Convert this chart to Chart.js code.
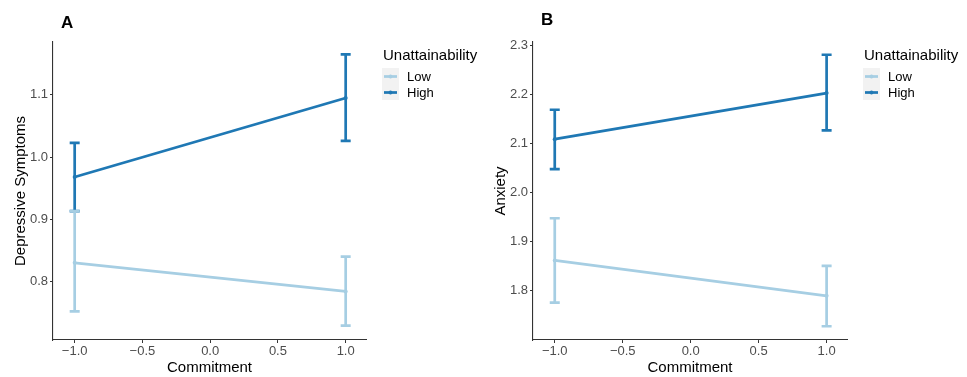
<!DOCTYPE html>
<html>
<head>
<meta charset="utf-8">
<script src="https://cdn.jsdelivr.net/npm/chart.js@4"></script>
<style>
  body { margin: 0; background: #fff; }
  .panel { position: absolute; top: 0; }
</style>
</head>
<body>
<div class="panel" style="left:0"><canvas id="panelA" width="480" height="377"></canvas></div>
<div class="panel" style="left:480px"><canvas id="panelB" width="487" height="377"></canvas></div>
<script>
// x positions (Commitment) and tick labels
const commitment = [-1, 1];
const xTicks = [-1, -0.5, 0, 0.5, 1];
const seriesNames = ['Low', 'High'];
const seriesColors = ['#a6cee3', '#1f78b4'];

// Panel A: Depressive Symptoms
const depLow = [0.830, 0.784];
const depLowUpper = [0.913, 0.840];
const depLowLower = [0.752, 0.729];
const depHigh = [0.968, 1.095];
const depHighUpper = [1.023, 1.165];
const depHighLower = [0.913, 1.026];
const depTicks = [0.8, 0.9, 1.0, 1.1];

// Panel B: Anxiety
const anxLow = [1.862, 1.790];
const anxLowUpper = [1.948, 1.851];
const anxLowLower = [1.776, 1.728];
const anxHigh = [2.109, 2.203];
const anxHighUpper = [2.169, 2.281];
const anxHighLower = [2.048, 2.127];
const anxTicks = [1.8, 1.9, 2.0, 2.1, 2.2, 2.3];

const fontFamily = "'Liberation Sans', Arial, sans-serif";

function fmt(v) {
    const s = Math.abs(v).toFixed(1);
    return v < -1e-9 ? '\u2212' + s : s;
}

// draws error bars from the dataset's lower/upper arrays
const errorBars = {
    id: 'errorBars',
    beforeDatasetsDraw(chart) {
        const ctx = chart.ctx;
        const xs = chart.scales.x, ys = chart.scales.y;
        // draw low first so high sits on top
        [1, 0].forEach(i => {
            const ds = chart.data.datasets[i];
            ctx.save();
            ctx.strokeStyle = ds.borderColor;
            ctx.lineWidth = 2.7;
            ds.data.forEach((p, j) => {
                const x = xs.getPixelForValue(p.x);
                const yu = ys.getPixelForValue(ds.upper[j]);
                const yl = ys.getPixelForValue(ds.lower[j]);
                ctx.beginPath();
                ctx.moveTo(x, yu); ctx.lineTo(x, yl);
                ctx.moveTo(x - 5, yu); ctx.lineTo(x + 5, yu);
                ctx.moveTo(x - 5, yl); ctx.lineTo(x + 5, yl);
                ctx.stroke();
            });
            ctx.restore();
        });
    }
};

// ggplot-style legend and panel tag
const sideLegend = {
    id: 'sideLegend',
    afterDraw(chart, args, opts) {
        const ctx = chart.ctx;
        ctx.save();
        ctx.fillStyle = '#000';
        ctx.font = 'bold 17px ' + fontFamily;
        ctx.textBaseline = 'alphabetic';
        ctx.fillText(opts.tag, opts.tagX, opts.tagY);

        const lx = chart.chartArea.right + 16;
        ctx.font = '15px ' + fontFamily;
        ctx.fillText('Unattainability', lx + 1, 60);
        ctx.fillStyle = '#f2f2f2';
        ctx.fillRect(lx, 68, 17, 32);
        const rowsY = [76.5, 92.5];
        [0, 1].forEach(i => {
            const ds = chart.data.datasets[i];
            ctx.strokeStyle = ds.borderColor;
            ctx.lineWidth = 2.7;
            ctx.beginPath();
            ctx.moveTo(lx + 2, rowsY[i]); ctx.lineTo(lx + 15, rowsY[i]);
            ctx.stroke();
            ctx.fillStyle = ds.borderColor;
            ctx.beginPath();
            ctx.arc(lx + 8.5, rowsY[i], 2, 0, Math.PI * 2);
            ctx.fill();
            ctx.fillStyle = '#000';
            ctx.font = '13px ' + fontFamily;
            ctx.textBaseline = 'middle';
            ctx.fillText(ds.label, lx + 25, rowsY[i] + 0.5);
        });
        ctx.restore();
    }
};

function makePanel(id, cfg) {
    const mk = (name, color, vals, up, lo, order) => ({
        label: name,
        data: commitment.map((x, i) => ({ x: x, y: vals[i] })),
        upper: up,
        lower: lo,
        borderColor: color,
        backgroundColor: color,
        borderWidth: 2.8,
        pointRadius: 2,
        pointBorderWidth: 0,
        tension: 0,
        order: order
    });
    return new Chart(document.getElementById(id), {
        type: 'line',
        data: {
            datasets: [
                mk(seriesNames[0], seriesColors[0], cfg.low, cfg.lowUp, cfg.lowLo, 1),
                mk(seriesNames[1], seriesColors[1], cfg.high, cfg.highUp, cfg.highLo, 0)
            ]
        },
        options: {
            responsive: false,
            animation: false,
            layout: { padding: { top: 42, right: cfg.rightPad, left: 0, bottom: 0 } },
            plugins: {
                legend: { display: false },
                tooltip: { enabled: false },
                sideLegend: { tag: cfg.tag, tagX: cfg.tagX, tagY: cfg.tagY }
            },
            scales: {
                x: {
                    type: 'linear',
                    min: -1.16,
                    max: 1.15,
                    afterBuildTicks: s => { s.ticks = xTicks.map(v => ({ value: v })); },
                    afterFit: s => { s.height = 37; },
                    ticks: {
                        callback: v => fmt(v),
                        color: '#4d4d4d',
                        font: { family: fontFamily, size: 13 },
                        padding: 1,
                        maxRotation: 0,
                        autoSkip: false
                    },
                    grid: { drawOnChartArea: false, drawTicks: true, tickLength: 3, color: '#333' },
                    border: { display: true, color: '#333', width: 1.1 },
                    title: {
                        display: true,
                        text: 'Commitment',
                        color: '#000',
                        font: { family: fontFamily, size: 15 },
                        padding: { top: 0, bottom: 0 }
                    }
                },
                y: {
                    type: 'linear',
                    min: cfg.yMin,
                    max: cfg.yMax,
                    afterBuildTicks: s => { s.ticks = cfg.yTicks.map(v => ({ value: v })); },
                    afterFit: s => { s.width = 53; },
                    ticks: {
                        callback: v => fmt(v),
                        color: '#4d4d4d',
                        font: { family: fontFamily, size: 13 },
                        padding: 2,
                        autoSkip: false
                    },
                    grid: { drawOnChartArea: false, drawTicks: true, tickLength: 3, color: '#333' },
                    border: { display: true, color: '#333', width: 1.1 },
                    title: {
                        display: true,
                        text: cfg.yTitle,
                        color: '#000',
                        font: { family: fontFamily, size: 15 },
                        padding: { top: 12, bottom: 0 }
                    }
                }
            }
        },
        plugins: [errorBars, sideLegend]
    });
}

makePanel('panelA', {
    low: depLow, lowUp: depLowUpper, lowLo: depLowLower,
    high: depHigh, highUp: depHighUpper, highLo: depHighLower,
    yTicks: depTicks, yMin: 0.706, yMax: 1.185,
    yTitle: 'Depressive Symptoms', tag: 'A', tagX: 61, tagY: 28, rightPad: 114
});
makePanel('panelB', {
    low: anxLow, lowUp: anxLowUpper, lowLo: anxLowLower,
    high: anxHigh, highUp: anxHighUpper, highLo: anxHighLower,
    yTicks: anxTicks, yMin: 1.70, yMax: 2.307,
    yTitle: 'Anxiety', tag: 'B', tagX: 61, tagY: 25, rightPad: 120
});
</script>
</body>
</html>
